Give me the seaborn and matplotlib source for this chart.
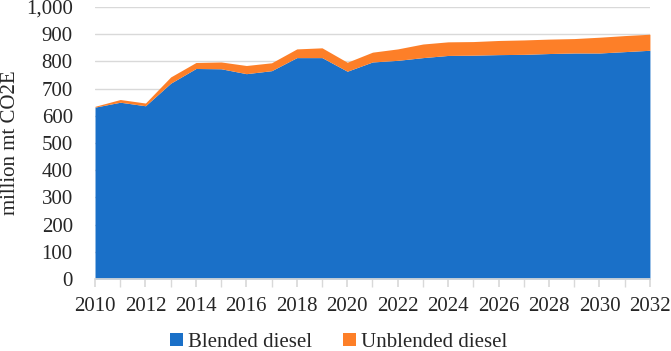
import numpy as np
import pandas as pd
import matplotlib
matplotlib.use("Agg")
import matplotlib.pyplot as plt
from matplotlib.patches import Patch
import seaborn as sns

years = list(range(2010, 2033))
blended = [632, 650, 637, 720, 774, 773, 755, 766, 814, 814, 764, 798,
           804, 814, 822, 823, 825, 826, 829, 831, 831, 836, 841]
total = [635, 660, 647, 743, 796, 798, 785, 795, 846, 850, 797, 834,
         846, 864, 872, 873, 877, 879, 882, 884, 889, 895, 900]
unblended = [t - b for t, b in zip(total, blended)]
series_names = ["Blended diesel", "Unblended diesel"]
colors = ["#1a70c8", "#fd7f28"]
y_label = "million mt CO2E"

df = pd.DataFrame({"year": years, series_names[0]: blended, series_names[1]: unblended})

sns.set_theme(style="white")
plt.rcParams["font.family"] = ["Liberation Serif", "DejaVu Serif"]

fs = 15
fig = plt.figure(figsize=(6.71, 3.51), dpi=100)
ax = fig.add_axes([0.1416, 0.205, 0.827, 0.775])

ax.stackplot(df["year"], df[series_names[0]], df[series_names[1]],
             colors=colors, linewidth=0)
sns.despine(ax=ax, left=True, top=True, right=True)

ax.set_xlim(2010, 2032)
ax.set_ylim(0, 1000)
ax.set_xticks(range(2010, 2033, 2))
ax.set_xticks(years, minor=True)
ax.set_yticks(range(0, 1001, 100))
ax.set_yticklabels([f"{v:,}" for v in range(0, 1001, 100)])
ax.yaxis.grid(True, color="#d9d9d9", linewidth=1)
ax.set_axisbelow(True)
ax.spines["bottom"].set_color("#d9d9d9")
ax.tick_params(axis="x", which="both", length=6, color="#d9d9d9", direction="out",
               labelsize=fs, pad=7, bottom=True)
ax.tick_params(axis="y", length=0, labelsize=fs, pad=16)
ax.set_ylabel(y_label, fontsize=fs, labelpad=4)
ax.set_xlabel("")

handles = [Patch(facecolor=c, edgecolor="none") for c in colors]
fig.legend(handles, series_names, loc="center", bbox_to_anchor=(0.505, 0.025),
           ncol=2, frameon=False, fontsize=fs, handlelength=0.6, handleheight=0.6,
           handletextpad=0.25, columnspacing=1.5, borderpad=0, borderaxespad=0)

fig.savefig("out.png", dpi=100)
